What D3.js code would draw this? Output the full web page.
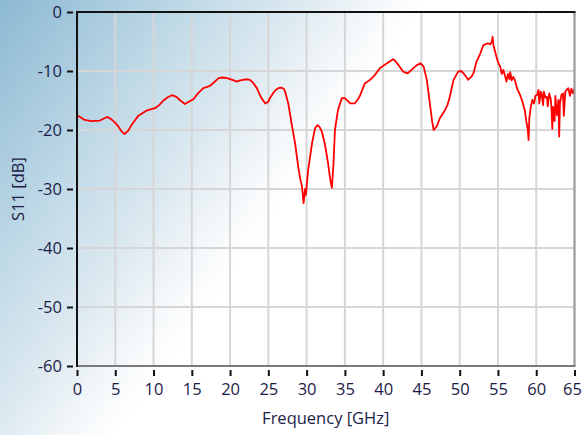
<!DOCTYPE html>
<html>
<head>
<meta charset="utf-8">
<script src="https://cdn.jsdelivr.net/npm/d3@7"></script>
<style>
html,body{margin:0;padding:0;background:#fff;}
svg{display:block;}
text{font-family:"Open Sans","Segoe UI",sans-serif;fill:#1c1c48;}
</style>
</head>
<body>
<svg id="chart" width="583" height="435"></svg>
<script>
const xTicks = [0,5,10,15,20,25,30,35,40,45,50,55,60,65];
const yTicks = [0,-10,-20,-30,-40,-50,-60];
const xTitle = "Frequency [GHz]";
const yTitle = "S11 [dB]";
const freq = [0,0.4,1.0,1.9,3.0,3.6,4.0,4.5,5.0,5.4,5.8,6.2,6.7,7.2,7.6,8.0,8.5,9.1,9.6,10.2,10.8,11.3,11.8,12.4,13.0,13.5,14.1,14.6,15.2,15.8,16.5,17.0,17.4,18.0,18.5,19.0,19.6,20.3,20.9,21.3,21.7,22.2,22.6,23.0,23.5,23.8,24.1,24.6,25.0,25.2,25.6,25.9,26.3,26.7,27.0,27.2,27.6,28.0,28.5,28.9,29.2,29.4,29.6,29.8,29.9,30.2,30.7,31.1,31.4,31.7,32.0,32.4,32.8,33.1,33.3,33.5,33.7,34.1,34.6,35.0,35.4,35.7,36.3,36.7,37.0,37.6,38.3,38.9,39.6,40.5,41.3,41.6,42.0,42.6,43.2,43.7,44.4,44.9,45.3,45.7,46.1,46.4,46.6,47.0,47.4,47.8,48.1,48.4,48.7,49.2,49.8,50.2,50.5,50.8,51.1,51.5,51.8,52.2,52.7,53.1,53.5,53.7,54.0,54.2,54.3,54.4,54.8,55.0,55.3,55.5,55.7,55.9,56.1,56.3,56.5,56.6,56.8,57.0,57.2,57.5,57.9,58.2,58.5,58.7,58.9,59.0,59.1,59.3,59.5,59.7,59.9,60.1,60.3,60.4,60.6,60.7,60.9,61.0,61.2,61.4,61.5,61.7,61.9,62.0,62.1,62.2,62.4,62.5,62.7,62.9,63.0,63.1,63.3,63.5,63.6,63.8,64.0,64.2,64.4,64.6,64.8,65.0];
const s11 = [-17.5,-17.8,-18.3,-18.5,-18.4,-18.0,-17.8,-18.2,-18.8,-19.4,-20.2,-20.7,-20.1,-19.0,-18.3,-17.6,-17.2,-16.7,-16.5,-16.3,-15.7,-15.0,-14.5,-14.1,-14.4,-15.0,-15.6,-15.2,-14.8,-13.8,-12.9,-12.7,-12.5,-11.8,-11.2,-11.1,-11.2,-11.5,-11.8,-11.6,-11.5,-11.4,-11.5,-12.0,-12.9,-13.8,-14.6,-15.5,-15.2,-14.6,-13.8,-13.3,-12.9,-12.8,-13.0,-13.5,-15.5,-18.6,-22.3,-26.2,-28.5,-29.6,-32.4,-30.0,-31.0,-26.8,-22.3,-19.7,-19.2,-19.5,-20.3,-22.5,-25.6,-28.5,-29.8,-26.0,-20.0,-16.6,-14.6,-14.6,-15.1,-15.5,-15.5,-14.8,-14.1,-12.1,-11.5,-10.7,-9.5,-8.7,-8.0,-8.3,-9.0,-10.1,-10.4,-9.8,-9.0,-8.7,-9.3,-11.5,-15.5,-18.5,-20.0,-19.4,-18.0,-17.2,-16.6,-15.8,-14.4,-11.5,-10.1,-10.0,-10.4,-10.9,-11.5,-11.0,-10.4,-8.4,-7.0,-5.6,-5.4,-5.3,-5.5,-5.0,-4.2,-5.6,-7.6,-8.5,-9.3,-10.5,-9.8,-10.7,-11.8,-10.5,-11.4,-10.2,-11.6,-11.0,-11.5,-13.0,-14.1,-15.2,-16.6,-18.5,-20.0,-21.7,-18.0,-16.0,-14.9,-15.5,-14.2,-14.1,-13.2,-15.5,-13.5,-13.8,-15.8,-13.5,-14.5,-14.4,-16.0,-13.8,-14.8,-16.5,-19.8,-16.1,-18.5,-14.2,-17.5,-14.9,-21.1,-15.5,-14.0,-13.8,-17.6,-13.5,-13.2,-12.9,-14.2,-13.0,-13.8,-13.0];

const svg = d3.select("#chart");
const W = 583, H = 435;
const defs = svg.append("defs");
const grad = defs.append("linearGradient").attr("id","bg")
  .attr("gradientUnits","userSpaceOnUse")
  .attr("x1",0).attr("y1",0).attr("x2",284).attr("y2",203);
grad.append("stop").attr("offset",0).attr("stop-color","#8cb9d2");
grad.append("stop").attr("offset",0.5).attr("stop-color","#c6dde9");
grad.append("stop").attr("offset",0.72).attr("stop-color","#deeaf1");
grad.append("stop").attr("offset",0.9).attr("stop-color","#f6f9fb");
grad.append("stop").attr("offset",1.1).attr("stop-color","#ffffff");
svg.append("rect").attr("width",W).attr("height",H).attr("fill","url(#bg)");

const L = 77, R = 574.5, T = 12, B = 366;
const x = d3.scaleLinear().domain([0,65]).range([L,R]);
const y = d3.scaleLinear().domain([0,-60]).range([T,B]);
const fmt = d => String(d);

// grid
const grid = svg.append("g");
grid.selectAll(".gx").data(xTicks).join("line")
  .attr("x1",d=>x(d)).attr("x2",d=>x(d)).attr("y1",T).attr("y2",B)
  .attr("stroke","#d6d6d6").attr("stroke-width",2);
grid.selectAll(".gy").data(yTicks).join("line")
  .attr("x1",L).attr("x2",R).attr("y1",d=>y(d)).attr("y2",d=>y(d))
  .attr("stroke","#d6d6d6").attr("stroke-width",2);

// curve
const pts = freq.map((f,i)=>[f,s11[i]]);
svg.append("path").datum(pts)
  .attr("fill","none").attr("stroke","#ff0000").attr("stroke-width",1.8)
  .attr("stroke-linejoin","round")
  .attr("d", d3.line().x(d=>x(d[0])).y(d=>y(d[1])));

// borders
svg.append("line").attr("x1",R).attr("x2",R).attr("y1",T).attr("y2",B).attr("stroke","#9a9a9a").attr("stroke-width",2);
svg.append("line").attr("x1",L).attr("x2",R+1).attr("y1",B).attr("y2",B).attr("stroke","#7a7a7a").attr("stroke-width",2);
svg.append("line").attr("x1",L).attr("x2",R+1).attr("y1",T).attr("y2",T).attr("stroke","#111").attr("stroke-width",2);
svg.append("line").attr("x1",L).attr("x2",L).attr("y1",T-1).attr("y2",B+1).attr("stroke","#111").attr("stroke-width",2);

// axes
const xAxis = d3.axisBottom(x).tickValues(xTicks).tickSize(6).tickPadding(7).tickFormat(fmt);
const gx = svg.append("g").attr("transform",`translate(0,${B+4})`).call(xAxis);
gx.select(".domain").remove();
gx.selectAll(".tick line").attr("stroke","#111").attr("stroke-width",2);
gx.selectAll(".tick text").attr("font-size",16.5).attr("fill","#1c1c48").attr("font-family",null)
  .attr("dx", d => d === 65 ? -2.5 : 0);

const yAxis = d3.axisLeft(y).tickValues(yTicks).tickSize(6).tickPadding(5).tickFormat(fmt);
const gy = svg.append("g").attr("transform",`translate(${L-4},0)`).call(yAxis);
gy.select(".domain").remove();
gy.selectAll(".tick line").attr("stroke","#111").attr("stroke-width",2);
gy.selectAll(".tick text").attr("font-size",16.5).attr("fill","#1c1c48").attr("font-family",null);

svg.append("text").attr("x",(L+R)/2).attr("y",424).attr("text-anchor","middle")
  .attr("font-size",16.5).text(xTitle);
svg.append("text").attr("transform","translate(24,189) rotate(-90)").attr("text-anchor","middle")
  .attr("font-size",16.5).text(yTitle);
</script>
</body>
</html>
